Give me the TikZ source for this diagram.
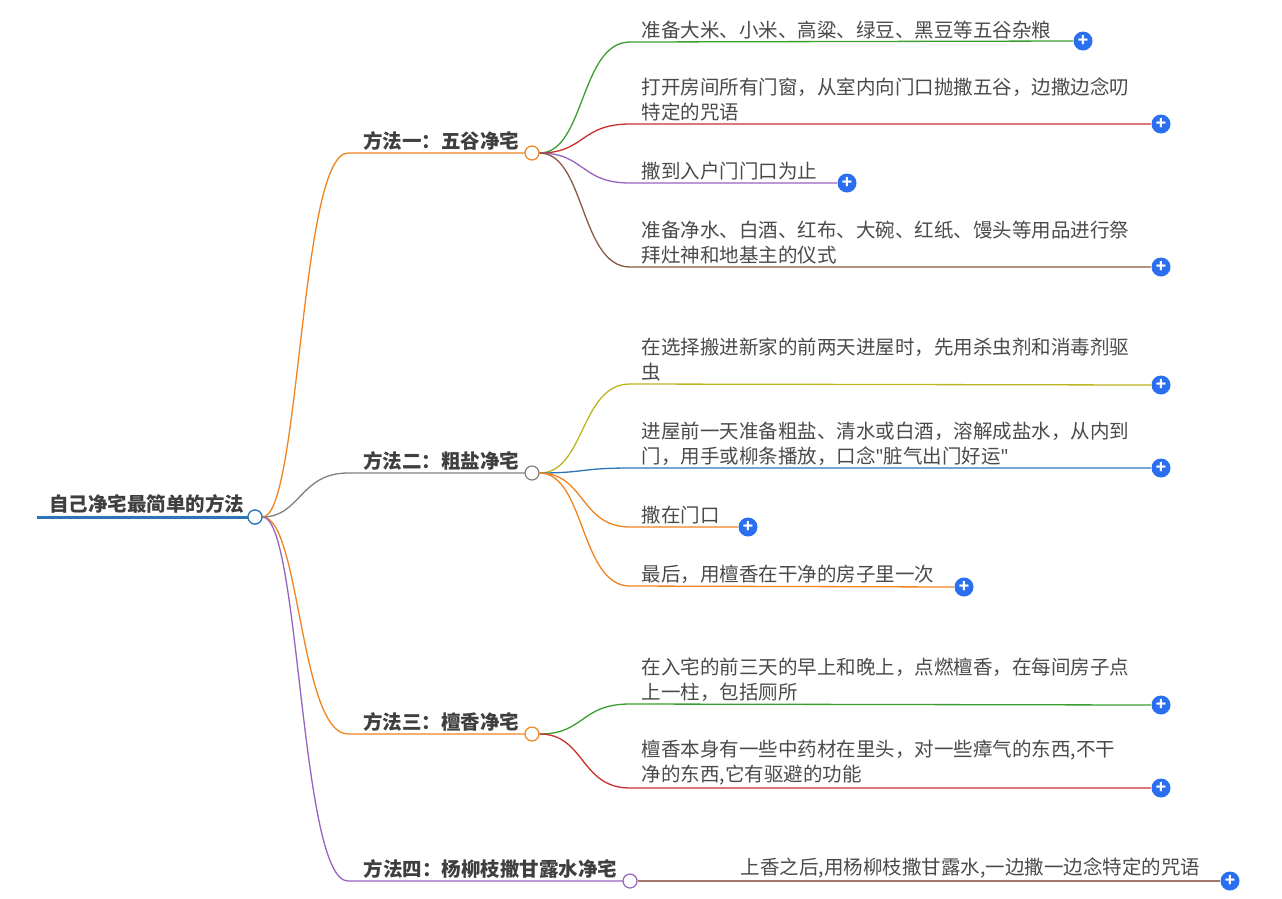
\documentclass[tikz,border=0pt]{standalone}
\usepackage{fontspec}
\setmainfont{Noto Sans CJK SC}
\newfontfamily\quotefont{Noto Sans}
\newcommand\dq{{\quotefont\char34}}
\definecolor{cOrange}{HTML}{F0831E}
\definecolor{cGreen}{HTML}{3A9E2F}
\definecolor{cRed}{HTML}{C8302C}
\definecolor{cPurple}{HTML}{9563C0}
\definecolor{cBrown}{HTML}{8B5742}
\definecolor{cGray}{HTML}{808080}
\definecolor{cOlive}{HTML}{BDB422}
\definecolor{cBlue}{HTML}{2C74B5}
\definecolor{cPlus}{HTML}{2A6FF0}
\definecolor{cText}{HTML}{4A4A4A}
\tikzset{
  leaf/.style={anchor=south west, inner sep=0pt, align=left, font=\fontsize{19.5}{25}\selectfont, text=cText},
  topic/.style={anchor=south east, inner sep=0pt, font=\bfseries\fontsize{19.5}{20}\selectfont, text=cText!85!black},
  knob/.style={circle, draw=#1, fill=white, line width=1.2pt, minimum size=14pt, inner sep=0pt},
  plus/.style={circle, fill=cPlus, minimum size=19pt, inner sep=0pt, text=white, font=\bfseries\fontsize{17}{17}\selectfont},
}
\begin{document}
\begin{tikzpicture}[x=1pt, y=-1pt, line width=1.3pt]
\useasboundingbox (0,0) rectangle (1282,898);

% root
\draw [cBlue, line width=3pt](37,517)--(248,517);
\node [topic] (root) at (245,514) {自己净宅最简单的方法};
\node [knob=cBlue] (r) at (255,517) {};

% main branches
\node [topic] (m1t) at (520,151) {方法一：五谷净宅};
\node [topic] (m2t) at (520,471) {方法二：粗盐净宅};
\node [topic] (m3t) at (520,732) {方法三：檀香净宅};
\node [topic] (m4t) at (618,879) {方法四：杨柳枝撒甘露水净宅};
\coordinate (m1s) at (348,153);
\coordinate (m2s) at (348,473);
\coordinate (m3s) at (348,734);
\coordinate (m4s) at (348,881);
\draw [cOrange](r.east) .. controls (300,517) and (300,153) .. (m1s) -- (525,153);
\draw [cGray](r.east) .. controls (300,517) and (300,473) .. (m2s) -- (525,473);
\draw [cOrange](r.east) .. controls (300,517) and (300,734) .. (m3s) -- (525,734);
\draw [cPurple](r.east) .. controls (300,517) and (300,881) .. (m4s) -- (623,881);
\node [knob=cOrange] (m1) at (532,153) {};
\node [knob=cGray] (m2) at (532,473) {};
\node [knob=cOrange] (m3) at (532,734) {};
\node [knob=cPurple] (m4) at (630,881) {};
\node [knob=cBlue] at (255,517) {};

% leaves of branch one
\node [leaf] (a1) at (641,40) {准备大米、小米、高粱、绿豆、黑豆等五谷杂粮};
\node [leaf] (a2) at (641,122) {打开房间所有门窗，从室内向门口抛撒五谷，边撒边念叨\\特定的咒语};
\node [leaf] (a3) at (641,181) {撒到入户门门口为止};
\node [leaf] (a4) at (641,265) {准备净水、白酒、红布、大碗、红纸、馒头等用品进行祭\\拜灶神和地基主的仪式};
\node [plus] (pa1) at (1083,41) {+};
\node [plus] (pa2) at (1161,124) {+};
\node [plus] (pa3) at (847,183) {+};
\node [plus] (pa4) at (1161,267) {+};
\draw [cGreen](m1.east) .. controls (585,153) and (580,42) .. (630,42) -- (pa1.west);
\draw [cRed](m1.east) .. controls (585,153) and (580,124) .. (630,124) -- (pa2.west);
\draw [cPurple](m1.east) .. controls (585,153) and (580,183) .. (630,183) -- (pa3.west);
\draw [cBrown](m1.east) .. controls (585,153) and (580,267) .. (630,267) -- (pa4.west);

% leaves of branch two
\node [leaf] (b1) at (641,382) {在选择搬进新家的前两天进屋时，先用杀虫剂和消毒剂驱\\虫};
\node [leaf] (b2) at (641,466) {进屋前一天准备粗盐、清水或白酒，溶解成盐水，从内到\\门，用手或柳条播放，口念\dq 脏气出门好运\dq};
\node [leaf] (b3) at (641,525) {撒在门口};
\node [leaf] (b4) at (641,584) {最后，用檀香在干净的房子里一次};
\node [plus] (pb1) at (1161,385) {+};
\node [plus] (pb2) at (1161,468) {+};
\node [plus] (pb3) at (748,527) {+};
\node [plus] (pb4) at (964,587) {+};
\draw [cOlive](m2.east) .. controls (585,473) and (580,384) .. (630,384) -- (pb1.west);
\draw [cBlue](m2.east) .. controls (585,473) and (580,468) .. (630,468) -- (pb2.west);
\draw [cOrange](m2.east) .. controls (585,473) and (580,527) .. (630,527) -- (pb3.west);
\draw [cOrange](m2.east) .. controls (585,473) and (580,586) .. (630,586) -- (pb4.west);

% leaves of branch three
\node [leaf] (c1) at (641,702) {在入宅的前三天的早上和晚上，点燃檀香，在每间房子点\\上一柱，包括厕所};
\node [leaf] (c2) at (641,786) {檀香本身有一些中药材在里头，对一些瘴气的东西,不干\\净的东西,它有驱避的功能};
\node [plus] (pc1) at (1161,705) {+};
\node [plus] (pc2) at (1161,788) {+};
\draw [cGreen](m3.east) .. controls (585,734) and (580,704) .. (630,704) -- (pc1.west);
\draw [cRed](m3.east) .. controls (585,734) and (580,788) .. (630,788) -- (pc2.west);

% leaf of branch four
\node [leaf] (d1) at (740,879) {上香之后,用杨柳枝撒甘露水,一边撒一边念特定的咒语};
\node [plus] (pd1) at (1230,881) {+};
\draw [cBrown!80](m4.east) -- (pd1.west);
\end{tikzpicture}
\end{document}
